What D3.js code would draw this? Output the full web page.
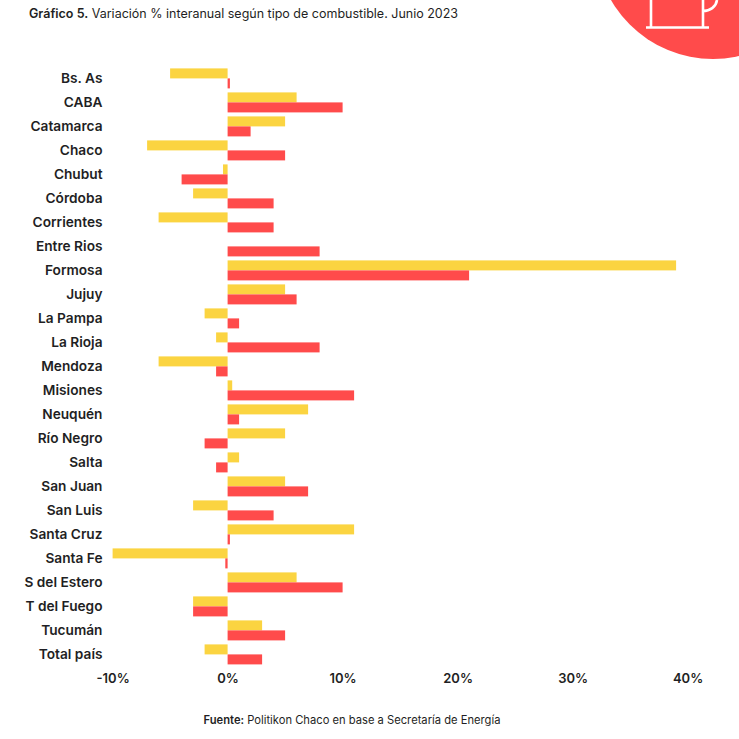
<!DOCTYPE html>
<html>
<head>
<meta charset="utf-8">
<script src="https://cdn.jsdelivr.net/npm/d3@7"></script>
<style>
  html, body { margin: 0; padding: 0; background: #fff; }
  svg { display: block; font-family: Inter, "Open Sans", sans-serif; }
</style>
</head>
<body>
<div id="chart-area"></div>
<script>
const provinces = ["Bs. As", "CABA", "Catamarca", "Chaco", "Chubut", "Córdoba", "Corrientes", "Entre Rios",
  "Formosa", "Jujuy", "La Pampa", "La Rioja", "Mendoza", "Misiones", "Neuquén", "Río Negro", "Salta",
  "San Juan", "San Luis", "Santa Cruz", "Santa Fe", "S del Estero", "T del Fuego", "Tucumán", "Total país"]

// two unnamed series in the original (no legend)
const yellowValues = [-5, 6, 5, -7, -0.4, -3, -6, 0, 39, 5, -2, -1, -6, 0.4, 7, 5, 1, 5, -3, 11, -10, 6, -3, 3, -2]
const redValues = [0.2, 10, 2, 5, -4, 4, 4, 8, 21, 6, 1, 8, -1, 11, 1, -2, -1, 7, 4, 0.2, -0.2, 10, -3, 5, 3]

const xTicks = [-10, 0, 10, 20, 30, 40]
const seriesNames = ["yellow", "red"]
const seriesColors = ["#FBD441", "#FF4B4B"]

const SIZE = 739

const svg = d3.select("#chart-area").append("svg")
  .attr("width", SIZE)
  .attr("height", SIZE)

// title
const title = svg.append("text")
  .attr("x", 29)
  .attr("y", 18)
  .attr("font-size", "12.5px")
  .attr("fill", "#1f1f24")
title.append("tspan").attr("font-weight", 600).text("Gráfico 5.")
title.append("tspan").text(" Variación % interanual según tipo de combustible. Junio 2023")

// corner badge with the pump icon
const badge = svg.append("g")
badge.append("circle")
  .attr("cx", 713)
  .attr("cy", -58.7)
  .attr("r", 117.7)
  .attr("fill", "#FF4B4B")
badge.append("path")
  .attr("d", "M651 0V27M703 0V27M646 27.5H709M703 11C710 11 716 7 717 0")
  .attr("fill", "none")
  .attr("stroke", "#fff")
  .attr("stroke-width", 2.6)

// scales
const x = d3.scaleLinear()
  .domain([-10, 40])
  .range([112.6, 687.6])

const y = d3.scaleBand()
  .domain(provinces)
  .range([66.4, 666.4])

const ySeries = d3.scaleBand()
  .domain(seriesNames)
  .range([2, 22])

const color = d3.scaleOrdinal().domain(seriesNames).range(seriesColors)

// bars
const rows = provinces.map((p, i) => ({ province: p, yellow: yellowValues[i], red: redValues[i] }))

seriesNames.forEach(name => {
  svg.append("g").selectAll("rect")
    .data(rows)
    .enter().append("rect")
    .attr("x", d => x(Math.min(0, d[name])))
    .attr("y", d => y(d.province) + ySeries(name))
    .attr("width", d => Math.abs(x(d[name]) - x(0)))
    .attr("height", ySeries.bandwidth())
    .attr("fill", color(name))
})

// y axis
const yAxisCall = d3.axisLeft(y).tickSize(0).tickPadding(0)
const yAxisGroup = svg.append("g")
  .attr("transform", "translate(102.5, 0)")
  .call(yAxisCall)
yAxisGroup.select(".domain").remove()
yAxisGroup.selectAll("text")
  .attr("font-family", "Inter, sans-serif")
  .attr("font-size", "13.7px")
  .attr("font-weight", 600)
  .attr("fill", "#1f1f24")

// x axis
const xAxisCall = d3.axisBottom(x)
  .tickValues(xTicks)
  .tickSize(0)
  .tickPadding(0)
  .tickFormat(d => d + "%")
const xAxisGroup = svg.append("g")
  .attr("transform", "translate(0, 674)")
  .call(xAxisCall)
xAxisGroup.select(".domain").remove()
xAxisGroup.selectAll("text")
  .attr("font-family", "Inter, sans-serif")
  .attr("font-size", "13px")
  .attr("font-weight", 600)
  .attr("fill", "#1f1f24")

// source
const source = svg.append("text")
  .attr("x", 352)
  .attr("y", 724)
  .attr("text-anchor", "middle")
  .attr("font-size", "11.2px")
  .attr("fill", "#1f1f24")
source.append("tspan").attr("font-weight", 600).text("Fuente:")
source.append("tspan").text(" Politikon Chaco en base a Secretaría de Energía")
</script>
</body>
</html>
